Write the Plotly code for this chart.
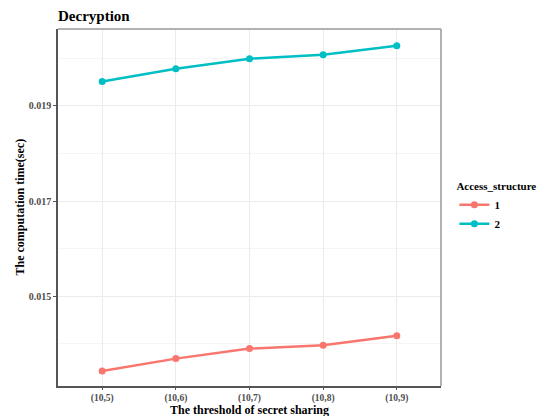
import plotly.graph_objects as go

categories = ["(10,5)", "(10,6)", "(10,7)", "(10,8)", "(10,9)"]
series_1 = [0.01343, 0.01369, 0.01390, 0.01397, 0.01417]
series_2 = [0.01951, 0.01978, 0.01999, 0.02007, 0.02026]
y_ticks = [0.015, 0.017, 0.019]
y_tick_labels = ["0.015", "0.017", "0.019"]

FONT = "Liberation Serif"
fig = go.Figure()
fig.add_trace(go.Scatter(x=categories, y=series_1, mode="lines+markers", name="<b>1</b>",
                         line=dict(color="#F8766D", width=2.5), marker=dict(size=7, color="#F8766D")))
fig.add_trace(go.Scatter(x=categories, y=series_2, mode="lines+markers", name="<b>2</b>",
                         line=dict(color="#00BFC4", width=2.5), marker=dict(size=7, color="#00BFC4")))

fig.update_layout(
    width=552, height=416,
    margin=dict(l=58, r=111, t=29, b=30),
    paper_bgcolor="white", plot_bgcolor="white",
    font=dict(family=FONT, size=10, color="#4D4D4D"),
    title=dict(text="<b>Decryption</b>", x=58/552, xanchor="left", y=1-16/416, yanchor="middle",
               font=dict(family=FONT, size=15, color="black"), automargin=False),
    legend=dict(title=dict(text="<b>Access_structure</b>", font=dict(family=FONT, size=11, color="black")),
                x=1.035, xanchor="left", y=0.5, yanchor="middle",
                font=dict(family=FONT, size=11, color="black"), tracegroupgap=2, itemwidth=30),
    showlegend=True,
)
fig.update_xaxes(
    type="category", range=[-0.6, 4.6], automargin=False,
    showline=True, linecolor="#555555", linewidth=1.5, mirror=False,
    ticks="outside", ticklen=2, tickcolor="#555555",
    showgrid=True, gridcolor="#EBEBEB", gridwidth=1,
    tickfont=dict(family=FONT, size=9.5, color="#4D4D4D"),
    zeroline=False,
)
fig.update_yaxes(
    range=[0.013115, 0.020613], automargin=False,
    tickvals=y_ticks, ticktext=["<b>%s</b>" % t for t in y_tick_labels],
    showline=True, linecolor="#555555", linewidth=1.5, mirror=False,
    ticks="outside", ticklen=3, tickcolor="#555555",
    showgrid=True, gridcolor="#EBEBEB", gridwidth=1,
    minor=dict(dtick=0.002, tick0=0.014, showgrid=True, gridcolor="#F5F5F5", gridwidth=1),
    tickfont=dict(family=FONT, size=10, color="#4D4D4D"),
    zeroline=False,
)
fig.update_xaxes(ticktext=["<b>%s</b>" % c for c in categories], tickvals=categories)
fig.add_annotation(text="<b>The threshold of secret sharing</b>", xref="paper", yref="paper",
                   x=0.5, y=0, xanchor="center", yanchor="top", yshift=-15, showarrow=False,
                   font=dict(family=FONT, size=12, color="black"))
fig.add_annotation(text="<b>The computation time(sec)</b>", xref="paper", yref="paper",
                   x=0, y=0.5, xanchor="right", yanchor="middle", xshift=-30, textangle=-90,
                   showarrow=False, font=dict(family=FONT, size=12, color="black"))
fig.add_shape(type="line", xref="paper", yref="paper", x0=0, x1=1, y0=1, y1=1,
              line=dict(color="#999999", width=1.5))
fig.add_shape(type="line", xref="paper", yref="paper", x0=1, x1=1, y0=0, y1=1,
              line=dict(color="#999999", width=1.5))
fig.write_html("out.html", config={"displayModeBar": False},
               post_script="document.body.style.margin='0';document.body.style.overflow='hidden';")
